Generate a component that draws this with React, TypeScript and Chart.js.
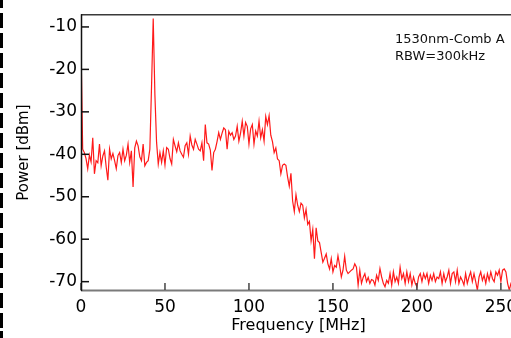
import React, { useEffect, useRef } from "react";
import { Chart, registerables } from "chart.js";

Chart.register(...registerables);

// Frequency samples (MHz)
const FREQ_MHZ = [
  0, 1, 2, 3, 4, 5, 6, 7, 8, 9, 10, 11, 12, 13, 14, 15, 16, 17, 18, 19,
  20, 21, 22, 23, 24, 25, 26, 27, 28, 29, 30, 31, 32, 33, 34, 35, 36, 37, 38, 39,
  40, 41, 42, 43, 44, 45, 46, 47, 48, 49, 50, 51, 52, 53, 54, 55, 56, 57, 58, 59,
  60, 61, 62, 63, 64, 65, 66, 67, 68, 69, 70, 71, 72, 73, 74, 75, 76, 77, 78, 79,
  80, 81, 82, 83, 84, 85, 86, 87, 88, 89, 90, 91, 92, 93, 94, 95, 96, 97, 98, 99,
  100, 101, 102, 103, 104, 105, 106, 107, 108, 109, 110, 111, 112, 113, 114, 115, 116, 117, 118, 119,
  120, 121, 122, 123, 124, 125, 126, 127, 128, 129, 130, 131, 132, 133, 134, 135, 136, 137, 138, 139,
  140, 141, 142, 143, 144, 145, 146, 147, 148, 149, 150, 151, 152, 153, 154, 155, 156, 157, 158, 159,
  160, 161, 162, 163, 164, 165, 166, 167, 168, 169, 170, 171, 172, 173, 174, 175, 176, 177, 178, 179,
  180, 181, 182, 183, 184, 185, 186, 187, 188, 189, 190, 191, 192, 193, 194, 195, 196, 197, 198, 199,
  200, 201, 202, 203, 204, 205, 206, 207, 208, 209, 210, 211, 212, 213, 214, 215, 216, 217, 218, 219,
  220, 221, 222, 223, 224, 225, 226, 227, 228, 229, 230, 231, 232, 233, 234, 235, 236, 237, 238, 239,
  240, 241, 242, 243, 244, 245, 246, 247, 248, 249, 250, 251, 252, 253, 254, 255, 256, 257, 258, 259,
];

// Measured power (dBm)
const POWER_DBM = [
  -14.5, -38.8, -39.6, -41.0, -43.4, -40.2, -41.8, -36.1, -44.6, -41.5,
  -42.0, -37.6, -42.7, -40.4, -39.2, -43.0, -46.1, -38.8, -41.1, -39.8,
  -41.5, -43.4, -40.3, -39.6, -41.9, -38.8, -41.5, -40.2, -37.6, -41.9,
  -39.2, -47.7, -38.5, -36.9, -38.0, -40.6, -41.5, -37.6, -42.7, -41.9,
  -41.5, -38.8, -24.0, -8.0, -26.0, -37.2, -42.3, -39.6, -41.9, -39.2,
  -42.5, -38.4, -38.8, -41.0, -42.3, -36.5, -38.0, -39.4, -37.3, -39.2,
  -40.0, -40.7, -38.0, -37.3, -40.0, -35.7, -37.8, -38.8, -36.5, -37.6,
  -38.8, -39.2, -37.3, -41.5, -33.0, -37.3, -37.6, -39.0, -43.8, -39.6,
  -38.8, -37.0, -34.9, -36.5, -35.0, -33.8, -34.2, -38.8, -34.6, -35.5,
  -34.9, -36.5, -35.7, -33.4, -36.9, -35.0, -32.2, -35.7, -32.5, -33.4,
  -37.6, -34.0, -33.0, -37.6, -34.5, -35.7, -32.2, -36.1, -34.2, -36.9,
  -31.1, -33.0, -30.9, -35.5, -37.0, -39.6, -38.5, -41.1, -41.5, -44.6,
  -42.6, -42.3, -42.6, -45.3, -47.5, -44.5, -51.0, -53.5, -49.5, -52.0,
  -53.5, -51.5, -52.0, -55.0, -53.0, -56.5, -55.8, -60.4, -57.7, -64.6,
  -57.3, -60.4, -60.8, -63.1, -65.4, -64.5, -63.5, -65.8, -67.0, -64.6,
  -67.7, -66.2, -66.6, -63.9, -66.2, -68.9, -67.3, -64.0, -67.3, -68.1,
  -67.7, -67.3, -67.0, -65.8, -66.6, -70.8, -67.3, -70.4, -69.0, -68.1,
  -70.0, -69.0, -70.4, -69.5, -69.7, -70.8, -68.5, -69.7, -66.9, -68.9,
  -70.4, -71.2, -69.7, -70.4, -68.1, -70.8, -67.7, -70.0, -68.9, -70.4,
  -66.6, -69.3, -68.1, -70.4, -67.7, -70.0, -68.1, -70.8, -68.9, -70.4,
  -71.2, -68.9, -68.1, -70.0, -68.1, -69.3, -68.1, -70.4, -68.5, -69.7,
  -68.1, -70.0, -68.9, -69.3, -67.7, -70.4, -68.1, -70.0, -68.9, -67.3,
  -70.4, -68.1, -67.7, -70.0, -67.3, -70.4, -68.9, -69.7, -70.8, -68.1,
  -70.4, -68.9, -67.7, -70.0, -68.1, -70.0, -72.0, -68.9, -67.7, -69.7,
  -68.5, -70.4, -68.1, -69.7, -67.7, -69.3, -70.0, -67.7, -68.5, -67.3,
  -70.0, -67.3, -67.0, -67.7, -70.4, -72.0, -70.4, -69.5, -68.8, -69.8,
];

const X_TICKS = [0, 50, 100, 150, 200, 250];
const Y_TICKS = [-70, -60, -50, -40, -30, -20, -10];
const X_TITLE = "Frequency [MHz]";
const Y_TITLE = "Power [dBm]";
const ANNOTATION_LINES = ["1530nm-Comb A", "RBW=300kHz"];

const X_MIN = 0;
const X_MAX = 259;
const Y_MIN = -72.2;
const Y_MAX = -7;

const FONT = "'DejaVu Sans', 'Liberation Sans', sans-serif";
const CANVAS_W = 530;
const CANVAS_H = 338;
const PLOT_LEFT = 81;
const PLOT_RIGHT = 516;
const PLOT_TOP = 9;
const PLOT_BOTTOM = 291;

const framePlugin = {
  id: "frame",
  afterDraw(chart: any) {
    const { ctx, chartArea, scales } = chart;
    const { left, right, top, bottom } = chartArea;
    ctx.save();
    // top border
    ctx.strokeStyle = "#3a3a3a";
    ctx.lineWidth = 1.5;
    ctx.beginPath();
    ctx.moveTo(left, top + 0.5);
    ctx.lineTo(right, top + 0.5);
    ctx.stroke();
    // bottom axis
    ctx.strokeStyle = "#7a7a7a";
    ctx.lineWidth = 2;
    ctx.beginPath();
    ctx.moveTo(left, bottom - 0.5);
    ctx.lineTo(right, bottom - 0.5);
    ctx.stroke();
    // x ticks (inward)
    ctx.strokeStyle = "#444";
    ctx.lineWidth = 1.5;
    X_TICKS.forEach((v) => {
      const x = scales.x.getPixelForValue(v);
      ctx.beginPath();
      ctx.moveTo(x, bottom - 1);
      ctx.lineTo(x, bottom - 8);
      ctx.stroke();
    });
    // left axis
    ctx.strokeStyle = "#111";
    ctx.lineWidth = 1.5;
    ctx.beginPath();
    ctx.moveTo(left + 0.5, top);
    ctx.lineTo(left + 0.5, bottom);
    ctx.stroke();
    // y ticks (inward)
    Y_TICKS.forEach((v) => {
      const y = scales.y.getPixelForValue(v);
      ctx.beginPath();
      ctx.moveTo(left, y);
      ctx.lineTo(left + 8, y);
      ctx.stroke();
    });
    // annotation
    ctx.fillStyle = "#111";
    ctx.font = `13px ${FONT}`;
    ctx.textAlign = "left";
    ctx.textBaseline = "alphabetic";
    ANNOTATION_LINES.forEach((t, i) => {
      ctx.fillText(t, 395, 43 + i * 17);
    });
    ctx.restore();
  },
};

export default function App() {
  const canvasRef = useRef<HTMLCanvasElement | null>(null);

  useEffect(() => {
    document.body.style.margin = "0";
    const canvas = canvasRef.current;
    if (!canvas) return;
    const points = FREQ_MHZ.map((f, i) => ({ x: f, y: POWER_DBM[i] }));
    const chart = new Chart(canvas, {
      type: "line",
      data: {
        datasets: [
          {
            data: points,
            borderColor: "#ff1a1a",
            borderWidth: 1.2,
            pointRadius: 0,
            tension: 0,
            fill: false,
          },
        ],
      },
      options: {
        responsive: false,
        animation: false,
        events: [],
        layout: {
          padding: { left: 0, top: PLOT_TOP, right: CANVAS_W - PLOT_RIGHT, bottom: 0 },
        },
        plugins: {
          legend: { display: false },
          tooltip: { enabled: false },
        },
        scales: {
          x: {
            type: "linear",
            min: X_MIN,
            max: X_MAX,
            afterBuildTicks: (s: any) => {
              s.ticks = X_TICKS.map((v) => ({ value: v }));
            },
            afterFit: (s: any) => {
              s.height = CANVAS_H - PLOT_BOTTOM;
            },
            grid: { display: false, drawTicks: false },
            border: { display: false },
            ticks: {
              autoSkip: false,
              maxRotation: 0,
              padding: 6,
              color: "#000",
              font: { family: FONT, size: 17 },
            },
            title: {
              display: true,
              text: X_TITLE,
              color: "#000",
              font: { family: FONT, size: 16 },
              padding: { top: 0, bottom: 3 },
            },
          },
          y: {
            type: "linear",
            min: Y_MIN,
            max: Y_MAX,
            afterBuildTicks: (s: any) => {
              s.ticks = Y_TICKS.map((v) => ({ value: v }));
            },
            afterFit: (s: any) => {
              s.width = PLOT_LEFT;
            },
            grid: { display: false, drawTicks: false },
            border: { display: false },
            ticks: {
              autoSkip: false,
              padding: 4,
              color: "#000",
              font: { family: FONT, size: 17 },
            },
            title: {
              display: true,
              text: Y_TITLE,
              color: "#000",
              font: { family: FONT, size: 15 },
              padding: { top: 15, bottom: 0 },
            },
          },
        },
      },
      plugins: [framePlugin],
    } as any);
    return () => chart.destroy();
  }, []);

  return (
    <div
      style={{
        position: "relative",
        width: 511,
        height: CANVAS_H,
        overflow: "hidden",
        background: "#fff",
      }}
    >
      <canvas
        ref={canvasRef}
        width={CANVAS_W}
        height={CANVAS_H}
        style={{ position: "absolute", left: 0, top: 0, width: CANVAS_W, height: CANVAS_H }}
      />
      <div
        style={{
          position: "absolute",
          left: 0,
          top: 0,
          width: 3,
          height: CANVAS_H,
          backgroundImage:
            "repeating-linear-gradient(to bottom, #000 0px, #000 15px, transparent 15px, transparent 20px)",
          backgroundPosition: "0 -7px",
        }}
      />
    </div>
  );
}
